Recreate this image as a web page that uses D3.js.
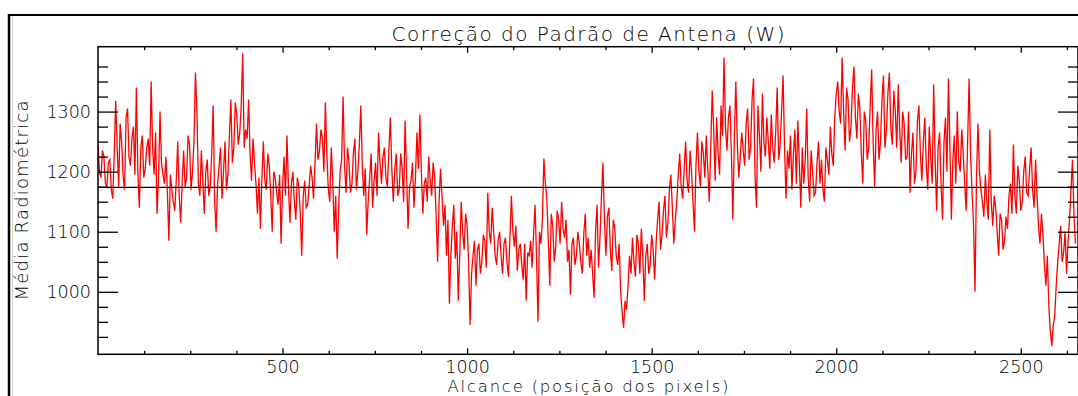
<!DOCTYPE html>
<html>
<head>
<meta charset="utf-8">
<script src="https://cdn.jsdelivr.net/npm/d3@7"></script>
<style>
  body { margin: 0; background: #fff; }
  text { font-family: "DejaVu Sans", sans-serif; font-weight: 200; fill: #000; }
</style>
</head>
<body>
<svg id="root"></svg>
<script>
// radiometric mean: one reading at every 8 pixels of range (0, 8, 16, ...)
// and one in between (4, 12, 20, ...)
const pixelStep = 8;
const mediaPassoPar = [
  1245,1190,1225,1175,1220,1155,1318,1175,1250,1170,
  1305,1210,1275,1340,1140,1260,1205,1255,1350,1195,
  1130,1300,1195,1225,1085,1170,1135,1250,1115,1235,
  1190,1245,1200,1365,1180,1235,1130,1220,1175,1310,
  1100,1210,1155,1250,1195,1320,1240,1295,1265,1397,
  1270,1320,1185,1215,1130,
  1105,1250,1170,1210,1100,1190,1145,1080,1225,1260,
  1115,1200,1120,1175,1060,1185,1145,1210,1155,1280,
  1235,1255,1315,1170,1240,1100,1055,1200,1325,1165,
  1215,1180,1255,1200,1310,1160,1095,1190,1140,1215,
  1265,1180,1240,1175,1290,1150,1230,1170,1205,1285,
  1105,1185,1140,1265,1295,1130,
  1190,1225,1160,1190,1050,1205,1110,1060,980,1110,
  1055,985,1150,1070,1110,945,1060,1010,1080,1050,
  1085,1165,1080,1100,1045,1100,1030,1090,1025,1160,
  1075,1035,1080,1020,985,1060,1040,1145,950,1080,
  1222,1155,1010,1110,1075,1120,1150,1090,1050,995,
  1090,1060,1080,1030,1130,1090,
  1070,990,1145,1090,1215,1060,1140,1035,1105,1045,
  1000,940,970,1060,1090,1025,1080,1105,985,1080,
  1045,1070,1080,1150,1095,1160,1115,1195,1080,1150,
  1230,1155,1250,1165,1200,1100,1265,1175,1230,1260,
  1150,1335,1185,1230,1310,1390,1235,1310,1120,1350,
  1190,1265,1210,1305,1240,1355,
  1140,1260,1330,1225,1250,1295,1215,1340,1245,1360,
  1155,1205,1170,1270,1285,1140,1180,1305,1150,1200,
  1165,1250,1220,1150,1220,1275,1210,1330,1300,1390,
  1235,1320,1275,1375,1255,1305,1180,1285,1240,1370,
  1175,1300,1250,1360,1270,1365,1245,1300,1345,1215,
  1280,1225,1165,1265,1200,1310,
  1185,1290,1170,1225,1345,1135,1265,1120,1290,1355,
  1120,1260,1300,1200,1230,1135,1355,1165,1000,1280,
  1170,1125,1150,1270,1110,1140,1060,1120,1085,1105,
  1180,1245,1130,1185,1150,1225,1160,1240,1140,1160,
  1080,1095,1010,975,910,960,1050,1110,1065,1030,
  1120,1220,1080
];
const mediaPassoImpar = [
  1200,1235,1180,1215,1170,1230,1240,1280,1195,1290,
  1225,1255,1195,1200,1240,1190,1240,1210,1240,1265,
  1190,1215,1180,1165,1195,1150,1185,1160,1180,1175,
  1260,1170,1250,1300,1160,1185,1200,1160,1230,1150,
  1180,1240,1200,1170,1260,1215,1315,1245,1310,1240,
  1255,1230,1255,1180,1190,
  1190,1185,1230,1160,1200,1165,1195,1175,1160,1175,
  1180,1150,1190,1130,1160,1140,1175,1190,1215,1220,
  1270,1200,1230,1150,1185,1160,1140,1220,1210,1240,
  1165,1230,1170,1245,1210,1205,1150,1230,1185,1160,
  1215,1225,1190,1235,1205,1205,1160,1230,1150,1195,
  1175,1215,1190,1205,1200,1180,
  1150,1185,1215,1130,1150,1160,1145,1120,1060,1145,
  1100,1060,1100,1130,1050,1030,1085,1070,1030,1095,
  1040,1100,1140,1060,1085,1060,1080,1050,1090,1100,
  1110,1070,1045,1080,1065,1085,1095,1060,1100,1120,
  1180,1085,1130,1050,1135,1080,1105,1120,1070,1080,
  1045,1100,1050,1095,1060,1040,
  1030,1100,1040,1160,1120,1125,1070,1120,1060,1080,
  965,985,1010,1030,1050,1095,1030,1060,1060,1030,
  1095,1020,1120,1070,1135,1090,1170,1140,1120,1195,
  1175,1205,1185,1235,1150,1210,1200,1250,1190,1205,
  1240,1270,1290,1195,1260,1275,1290,1230,1260,1250,
  1225,1235,1280,1220,1320,1195,
  1310,1200,1250,1290,1205,1240,1265,1220,1300,1240,
  1235,1260,1230,1180,1215,1240,1220,1190,1235,1160,
  1215,1180,1170,1240,1195,1230,1290,1350,1280,1300,
  1340,1250,1340,1290,1330,1230,1300,1220,1310,1250,
  1270,1220,1320,1240,1330,1270,1335,1240,1270,1300,
  1220,1300,1230,1180,1285,1230,
  1250,1210,1275,1180,1220,1240,1180,1250,1200,1240,
  1220,1180,1215,1270,1180,1250,1230,1110,1190,1200,
  1150,1195,1120,1150,1160,1100,1130,1070,1125,1160,
  1130,1160,1210,1135,1200,1165,1205,1170,1220,1110,
  1130,1045,1060,935,945,1010,1080,1050,1100,1085,
  1170,1130
];

const meanValue = 1174;
const xDomain = [0, 2655];
const yDomain = [896, 1408];
const xMajorTicks = [500, 1000, 1500, 2000, 2500];
const xMinorTicks = [125, 250, 375, 625, 750, 875, 1125, 1250, 1375, 1625, 1750, 1875, 2125, 2250, 2375, 2625];
const yMajorTicks = [1000, 1100, 1200, 1300];
const yMinorTicks = [925, 950, 975, 1025, 1050, 1075, 1125, 1150, 1175, 1225, 1250, 1275, 1325, 1350, 1375];

const titleText = 'Correção do Padrão de Antena (W)';
const xLabel = 'Alcance (posição dos pixels)';
const yLabel = 'Média Radiométrica';

// join the two readings into one series of {pos, val}
const serie = [];
mediaPassoPar.forEach((v, i) => {
  serie.push({ pos: i * pixelStep, val: v });
  if (i < mediaPassoImpar.length) serie.push({ pos: i * pixelStep + pixelStep / 2, val: mediaPassoImpar[i] });
});

const margin = { top: 46.7, left: 98, right: 0, bottom: 41.7 };
const W = 1078, H = 396;
const width = W - margin.left - margin.right;
const height = H - margin.top - margin.bottom;

const svg = d3.select('#root').attr('width', W).attr('height', H);

// window frame around the plot
svg.append('line').attr('x1', 8).attr('x2', W).attr('y1', 15).attr('y2', 15)
  .attr('stroke', '#000').attr('stroke-width', 2);
svg.append('line').attr('x1', 9).attr('x2', 9).attr('y1', 14).attr('y2', H)
  .attr('stroke', '#000').attr('stroke-width', 2.5);
svg.append('line').attr('x1', 12.5).attr('x2', 12.5).attr('y1', 16).attr('y2', H)
  .attr('stroke', '#cfcfcf').attr('stroke-width', 1);

const chart = svg.append('g').attr('transform', `translate(${margin.left}, ${margin.top})`);

const x = d3.scaleLinear().domain(xDomain).range([0, width]);
const y = d3.scaleLinear().domain(yDomain).range([height, 0]);

chart.append('clipPath').attr('id', 'clip')
  .append('rect').attr('width', width).attr('height', height);

// data line
const line = d3.line()
  .x(d => x(d.pos))
  .y(d => y(d.val));

chart.append('path')
  .datum(serie)
  .attr('clip-path', 'url(#clip)')
  .attr('fill', 'none')
  .attr('stroke', '#ff0000')
  .attr('stroke-width', 1.3)
  .attr('d', line);

// mean line
chart.append('line')
  .attr('x1', 0).attr('x2', width)
  .attr('y1', y(meanValue)).attr('y2', y(meanValue))
  .attr('stroke', '#000').attr('stroke-width', 1.3);

// axes, ticks pointing inward
function addAxis(axis, tx, ty) {
  const g = chart.append('g').attr('transform', `translate(${tx}, ${ty})`).call(axis);
  g.select('.domain').remove();
  g.selectAll('line').attr('stroke', '#000').attr('stroke-width', 1.3);
  g.selectAll('text').attr('font-size', 17.5).attr('font-family', 'DejaVu Sans').attr('font-weight', 200).attr('fill', '#000');
  return g;
}

addAxis(d3.axisBottom(x).tickValues(xMajorTicks).tickSize(-6).tickPadding(6).tickFormat(d3.format('d')), 0, height);
addAxis(d3.axisBottom(x).tickValues(xMinorTicks).tickSize(-3.5).tickFormat(''), 0, height);
addAxis(d3.axisTop(x).tickValues(xMajorTicks).tickSize(-6).tickFormat(''), 0, 0);
addAxis(d3.axisTop(x).tickValues(xMinorTicks).tickSize(-3.5).tickFormat(''), 0, 0);

addAxis(d3.axisLeft(y).tickValues(yMajorTicks).tickSize(-20).tickPadding(7).tickFormat(d3.format('d')), 0, 0);
addAxis(d3.axisLeft(y).tickValues(yMinorTicks).tickSize(-10).tickFormat(''), 0, 0);
addAxis(d3.axisRight(y).tickValues(yMajorTicks).tickSize(-20).tickFormat(''), width, 0);
addAxis(d3.axisRight(y).tickValues(yMinorTicks).tickSize(-10).tickFormat(''), width, 0);

// plot box
chart.append('rect')
  .attr('width', width).attr('height', height)
  .attr('fill', 'none').attr('stroke', '#000').attr('stroke-width', 1.5);

// texts
svg.append('text')
  .attr('x', margin.left + width / 2).attr('y', 41)
  .attr('text-anchor', 'middle').attr('font-size', 20)
  .attr('textLength', 393).attr('lengthAdjust', 'spacing')
  .text(titleText);

svg.append('text')
  .attr('x', margin.left + width / 2).attr('y', 392)
  .attr('text-anchor', 'middle').attr('font-size', 16.5)
  .attr('textLength', 281).attr('lengthAdjust', 'spacing')
  .text(xLabel);

svg.append('text')
  .attr('transform', `translate(28, ${margin.top + height / 2}) rotate(-90)`)
  .attr('text-anchor', 'middle').attr('font-size', 18)
  .attr('textLength', 200).attr('lengthAdjust', 'spacing')
  .text(yLabel);
</script>
</body>
</html>
